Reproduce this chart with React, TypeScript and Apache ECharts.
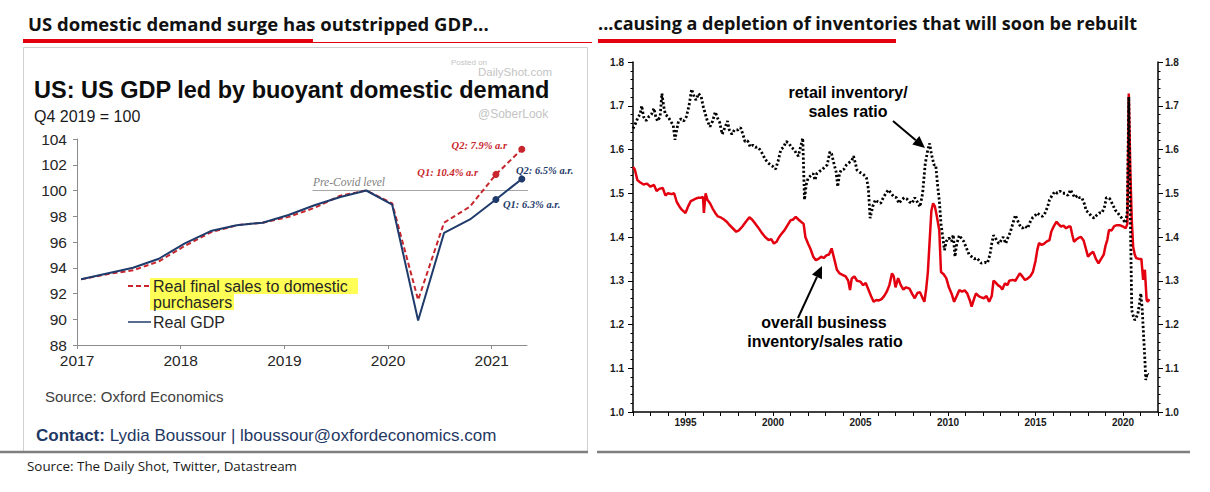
import React, { useEffect, useRef } from "react";
import * as echarts from "echarts";

// ---------- Left panel: US GDP vs domestic demand (Q4 2019 = 100) ----------
const quarters = [
  "2017Q1", "2017Q2", "2017Q3", "2017Q4",
  "2018Q1", "2018Q2", "2018Q3", "2018Q4",
  "2019Q1", "2019Q2", "2019Q3", "2019Q4",
  "2020Q1", "2020Q2", "2020Q3", "2020Q4",
  "2021Q1", "2021Q2",
];
const realGdp = [
  93.1, 93.55, 94.0, 94.7, 95.9, 96.85, 97.3, 97.5, 98.1,
  98.85, 99.5, 100.0, 98.9, 89.9, 96.7, 97.75, 99.3, 100.9,
];
const finalSales = [
  93.1, 93.5, 93.8, 94.5, 95.7, 96.75, 97.3, 97.5, 97.95,
  98.65, 99.6, 100.0, 99.0, 91.5, 97.5, 98.75, 101.25, 103.2,
];
const gdpYearTicks = [2017, 2018, 2019, 2020, 2021];
const preCovidLevel = 100;
const preCovidSpan = [2019.27, 2021.43];

// ---------- Right panel: inventory / sales ratios ----------
const businessRatio: [number, number][] = [
  [1992.0, 1.56], [1992.1, 1.555], [1992.25, 1.53], [1992.4, 1.525], [1992.6, 1.52], [1992.8, 1.522],
  [1993.0, 1.515], [1993.2, 1.519], [1993.35, 1.505], [1993.5, 1.51], [1993.7, 1.512], [1993.85, 1.495],
  [1994.0, 1.5], [1994.2, 1.498], [1994.35, 1.5], [1994.5, 1.48], [1994.65, 1.47], [1994.8, 1.462],
  [1995.0, 1.455], [1995.15, 1.47], [1995.3, 1.482], [1995.45, 1.485], [1995.6, 1.488], [1995.75, 1.49],
  [1995.9, 1.49], [1996.0, 1.492], [1996.05, 1.455], [1996.15, 1.5], [1996.25, 1.485], [1996.4, 1.477],
  [1996.55, 1.465], [1996.7, 1.455], [1996.85, 1.447], [1997.0, 1.445], [1997.2, 1.44], [1997.35, 1.435],
  [1997.5, 1.428], [1997.7, 1.42], [1997.9, 1.412], [1998.05, 1.415], [1998.25, 1.424], [1998.45, 1.435],
  [1998.65, 1.445], [1998.8, 1.44], [1999.0, 1.43], [1999.15, 1.422], [1999.35, 1.41], [1999.55, 1.4],
  [1999.75, 1.393], [1999.9, 1.395], [2000.05, 1.385], [2000.2, 1.389], [2000.35, 1.4], [2000.5, 1.408],
  [2000.65, 1.415], [2000.8, 1.425], [2001.0, 1.438], [2001.15, 1.44], [2001.3, 1.446], [2001.45, 1.44],
  [2001.6, 1.435], [2001.75, 1.43], [2001.85, 1.4], [2002.0, 1.385], [2002.15, 1.372], [2002.3, 1.355],
  [2002.45, 1.347], [2002.6, 1.35], [2002.75, 1.355], [2002.9, 1.352], [2003.05, 1.358], [2003.2, 1.36],
  [2003.35, 1.374], [2003.5, 1.35], [2003.65, 1.325], [2003.8, 1.317], [2004.0, 1.313], [2004.15, 1.31],
  [2004.3, 1.3], [2004.4, 1.279], [2004.5, 1.305], [2004.65, 1.31], [2004.8, 1.3], [2005.0, 1.298],
  [2005.15, 1.29], [2005.3, 1.295], [2005.45, 1.28], [2005.6, 1.265], [2005.75, 1.252], [2005.9, 1.256],
  [2006.05, 1.255], [2006.2, 1.258], [2006.35, 1.265], [2006.5, 1.275], [2006.65, 1.29], [2006.8, 1.317],
  [2006.9, 1.31], [2007.0, 1.285], [2007.15, 1.306], [2007.3, 1.29], [2007.45, 1.28], [2007.6, 1.285],
  [2007.8, 1.282], [2007.95, 1.27], [2008.1, 1.26], [2008.25, 1.272], [2008.4, 1.274], [2008.55, 1.26],
  [2008.65, 1.252], [2008.75, 1.28], [2008.85, 1.32], [2008.95, 1.39], [2009.05, 1.46], [2009.15, 1.477],
  [2009.25, 1.47], [2009.35, 1.45], [2009.5, 1.416], [2009.6, 1.32], [2009.75, 1.315], [2009.9, 1.306],
  [2010.05, 1.285], [2010.2, 1.271], [2010.35, 1.252], [2010.5, 1.265], [2010.65, 1.279], [2010.8, 1.275],
  [2010.95, 1.278], [2011.1, 1.271], [2011.25, 1.255], [2011.35, 1.241], [2011.5, 1.26], [2011.6, 1.271],
  [2011.75, 1.265], [2011.9, 1.262], [2012.05, 1.26], [2012.2, 1.265], [2012.35, 1.252], [2012.5, 1.265],
  [2012.6, 1.3], [2012.7, 1.297], [2012.85, 1.29], [2013.0, 1.286], [2013.1, 1.28], [2013.25, 1.294],
  [2013.4, 1.29], [2013.5, 1.3], [2013.7, 1.302], [2013.85, 1.3], [2014.0, 1.31], [2014.1, 1.317],
  [2014.25, 1.31], [2014.4, 1.302], [2014.55, 1.305], [2014.7, 1.31], [2014.85, 1.32], [2015.0, 1.345],
  [2015.1, 1.37], [2015.2, 1.386], [2015.35, 1.382], [2015.5, 1.385], [2015.65, 1.39], [2015.8, 1.393],
  [2015.9, 1.412], [2016.05, 1.425], [2016.2, 1.435], [2016.3, 1.43], [2016.45, 1.424], [2016.6, 1.426],
  [2016.75, 1.42], [2016.9, 1.424], [2017.0, 1.424], [2017.1, 1.405], [2017.2, 1.389], [2017.35, 1.395],
  [2017.45, 1.398], [2017.6, 1.4], [2017.75, 1.392], [2017.9, 1.37], [2018.0, 1.355], [2018.15, 1.362],
  [2018.3, 1.366], [2018.45, 1.35], [2018.6, 1.34], [2018.75, 1.35], [2018.9, 1.36], [2019.0, 1.38],
  [2019.1, 1.393], [2019.2, 1.416], [2019.35, 1.415], [2019.5, 1.425], [2019.65, 1.427], [2019.8, 1.427],
  [2020.0, 1.424], [2020.15, 1.42], [2020.25, 1.43], [2020.33, 1.728], [2020.42, 1.55], [2020.5, 1.44],
  [2020.58, 1.378], [2020.67, 1.36], [2020.75, 1.352], [2020.9, 1.35], [2021.05, 1.35], [2021.15, 1.302],
  [2021.25, 1.325], [2021.35, 1.256], [2021.42, 1.252], [2021.5, 1.258],
];

const retailRatio: [number, number][] = [
  [1992.0, 1.648], [1992.15, 1.66], [1992.3, 1.675], [1992.4, 1.68], [1992.5, 1.7], [1992.6, 1.675],
  [1992.75, 1.666], [1992.9, 1.675], [1993.05, 1.68], [1993.2, 1.694], [1993.3, 1.675], [1993.4, 1.665],
  [1993.55, 1.675], [1993.65, 1.728], [1993.75, 1.7], [1993.85, 1.68], [1994.0, 1.675], [1994.15, 1.665],
  [1994.3, 1.655], [1994.4, 1.622], [1994.5, 1.645], [1994.6, 1.665], [1994.75, 1.67], [1994.9, 1.665],
  [1995.05, 1.675], [1995.2, 1.7], [1995.35, 1.738], [1995.5, 1.72], [1995.6, 1.713], [1995.75, 1.728],
  [1995.9, 1.72], [1996.0, 1.7], [1996.1, 1.686], [1996.25, 1.665], [1996.4, 1.652], [1996.55, 1.665],
  [1996.7, 1.686], [1996.85, 1.67], [1996.95, 1.662], [1997.1, 1.635], [1997.25, 1.65], [1997.4, 1.665],
  [1997.5, 1.645], [1997.65, 1.635], [1997.8, 1.645], [1998.0, 1.645], [1998.15, 1.65], [1998.3, 1.632],
  [1998.4, 1.618], [1998.55, 1.62], [1998.7, 1.606], [1998.85, 1.61], [1999.0, 1.605], [1999.1, 1.606],
  [1999.25, 1.6], [1999.4, 1.59], [1999.55, 1.578], [1999.7, 1.57], [1999.85, 1.565], [2000.0, 1.561],
  [2000.15, 1.555], [2000.3, 1.575], [2000.45, 1.6], [2000.6, 1.605], [2000.75, 1.618], [2000.9, 1.615],
  [2001.05, 1.605], [2001.2, 1.6], [2001.35, 1.59], [2001.45, 1.585], [2001.6, 1.61], [2001.7, 1.626],
  [2001.8, 1.485], [2001.9, 1.52], [2002.0, 1.534], [2002.15, 1.54], [2002.3, 1.545], [2002.4, 1.53],
  [2002.5, 1.545], [2002.65, 1.55], [2002.8, 1.553], [2002.95, 1.56], [2003.1, 1.565], [2003.25, 1.595],
  [2003.35, 1.59], [2003.5, 1.565], [2003.6, 1.55], [2003.7, 1.515], [2003.8, 1.545], [2003.9, 1.553],
  [2004.05, 1.555], [2004.2, 1.565], [2004.35, 1.57], [2004.5, 1.575], [2004.6, 1.585], [2004.7, 1.57],
  [2004.8, 1.553], [2004.95, 1.548], [2005.1, 1.545], [2005.25, 1.54], [2005.35, 1.534], [2005.45, 1.51],
  [2005.55, 1.443], [2005.7, 1.47], [2005.85, 1.485], [2006.0, 1.48], [2006.15, 1.477], [2006.3, 1.49],
  [2006.45, 1.5], [2006.6, 1.508], [2006.75, 1.5], [2006.9, 1.492], [2007.05, 1.49], [2007.2, 1.477],
  [2007.35, 1.485], [2007.5, 1.49], [2007.65, 1.487], [2007.8, 1.48], [2007.95, 1.477], [2008.1, 1.49],
  [2008.25, 1.48], [2008.4, 1.469], [2008.55, 1.5], [2008.7, 1.568], [2008.85, 1.6], [2008.95, 1.614],
  [2009.05, 1.59], [2009.2, 1.565], [2009.3, 1.565], [2009.4, 1.52], [2009.5, 1.485], [2009.6, 1.43],
  [2009.7, 1.4], [2009.8, 1.37], [2009.9, 1.39], [2010.05, 1.398], [2010.2, 1.39], [2010.3, 1.405],
  [2010.4, 1.355], [2010.5, 1.385], [2010.65, 1.404], [2010.8, 1.395], [2010.9, 1.39], [2011.05, 1.375],
  [2011.2, 1.36], [2011.35, 1.355], [2011.5, 1.35], [2011.65, 1.352], [2011.8, 1.345], [2011.9, 1.34],
  [2012.1, 1.342], [2012.25, 1.34], [2012.4, 1.36], [2012.5, 1.385], [2012.6, 1.404], [2012.75, 1.395],
  [2012.9, 1.385], [2013.0, 1.39], [2013.15, 1.4], [2013.3, 1.385], [2013.4, 1.396], [2013.55, 1.41],
  [2013.7, 1.43], [2013.85, 1.45], [2013.95, 1.44], [2014.1, 1.427], [2014.25, 1.42], [2014.4, 1.425],
  [2014.55, 1.42], [2014.7, 1.435], [2014.85, 1.445], [2015.0, 1.45], [2015.1, 1.455], [2015.25, 1.45],
  [2015.4, 1.447], [2015.55, 1.455], [2015.7, 1.47], [2015.8, 1.485], [2015.95, 1.495], [2016.1, 1.504],
  [2016.25, 1.5], [2016.4, 1.505], [2016.55, 1.5], [2016.7, 1.5], [2016.85, 1.495], [2017.0, 1.508],
  [2017.1, 1.5], [2017.25, 1.49], [2017.4, 1.495], [2017.5, 1.49], [2017.65, 1.49], [2017.8, 1.475],
  [2017.9, 1.46], [2018.05, 1.455], [2018.2, 1.447], [2018.35, 1.443], [2018.5, 1.45], [2018.65, 1.455],
  [2018.8, 1.455], [2018.95, 1.47], [2019.05, 1.49], [2019.15, 1.49], [2019.25, 1.487], [2019.4, 1.475],
  [2019.55, 1.462], [2019.7, 1.455], [2019.85, 1.447], [2020.0, 1.44], [2020.15, 1.432], [2020.25, 1.46],
  [2020.33, 1.72], [2020.42, 1.45], [2020.5, 1.233], [2020.58, 1.22], [2020.67, 1.21], [2020.75, 1.215],
  [2020.85, 1.225], [2020.95, 1.25], [2021.02, 1.271], [2021.1, 1.233], [2021.17, 1.18], [2021.25, 1.12],
  [2021.3, 1.073], [2021.38, 1.088], [2021.45, 1.085],
];
const ratioLabelYears = [1995, 2000, 2005, 2010, 2015, 2020];

// quarter label -> fractional year used on the value axis
const quarterToYear = (q: string) =>
  Number(q.slice(0, 4)) + (Number(q.slice(5)) - 1) * 0.25 + 0.04;

const RED_DS = "#e3000f";
const NAVY = "#1f3b6b";
const DEMAND_RED = "#c8262c";
const ARIAL = "Liberation Sans, Arial, sans-serif";
const SERIF = "Liberation Serif, serif";
const HEAD = "Open Sans, sans-serif";

function arrow(x1: number, y1: number, x2: number, y2: number) {
  const head = 12;
  const half = 5.5;
  const dx = x2 - x1;
  const dy = y2 - y1;
  const len = Math.hypot(dx, dy);
  const ux = dx / len;
  const uy = dy / len;
  const bx = x2 - ux * head;
  const by = y2 - uy * head;
  return [
    { type: "line", shape: { x1, y1, x2: bx, y2: by }, style: { stroke: "#000", lineWidth: 2 } },
    {
      type: "polygon",
      shape: { points: [[x2, y2], [bx - uy * half, by + ux * half], [bx + uy * half, by - ux * half]] },
      style: { fill: "#000" },
    },
  ];
}

function txt(x: number, y: number, text: string, style: Record<string, unknown>) {
  return { type: "text", x, y, style: { text, textVerticalAlign: "middle", ...style } };
}

export default function App() {
  const ref = useRef<HTMLDivElement>(null);

  useEffect(() => {
    if (!ref.current) return;
    const chart = echarts.init(ref.current, undefined, { renderer: "svg" });

    const lastTwo = (_v: unknown, p: { dataIndex: number }) =>
      p.dataIndex >= quarters.length - 2 ? 7 : 0;

    const ratioAxisLabel = {
      fontFamily: ARIAL,
      fontWeight: "bold",
      fontSize: 10,
      color: "#1a1a1a",
    };

    const noteStyle = (fill: string, align = "left") => ({
      fontFamily: SERIF,
      fontStyle: "italic",
      fontWeight: "bold",
      fontSize: 10.5,
      fill,
      textAlign: align,
    });

    const bigLabel = { fontFamily: ARIAL, fontWeight: "bold", fontSize: 16, fill: "#000", textAlign: "center" };

    const option = {
      animation: false,
      backgroundColor: "#ffffff",
      grid: [
        { left: 77, top: 139, width: 450, height: 206 },
        { left: 633, top: 62, width: 525, height: 350 },
      ],
      xAxis: [
        {
          type: "value",
          gridIndex: 0,
          min: 2017,
          max: 2021.34,
          interval: 1,
          axisLine: { lineStyle: { color: "#8c8c8c", width: 1 } },
          axisTick: { customValues: gdpYearTicks, length: 4, lineStyle: { color: "#8c8c8c" } },
          axisLabel: {
            customValues: gdpYearTicks,
            formatter: (v: number) => String(v),
            fontFamily: ARIAL,
            fontSize: 15.5,
            color: "#262626",
            margin: 7,
          },
          splitLine: { show: false },
        },
        {
          type: "value",
          gridIndex: 1,
          min: 1992,
          max: 2022,
          interval: 1,
          axisLine: { lineStyle: { color: "#000", width: 1.5 } },
          axisTick: { length: 4, lineStyle: { color: "#000", width: 1 } },
          axisLabel: {
            ...ratioAxisLabel,
            formatter: (v: number) => (ratioLabelYears.includes(v) ? String(v) : ""),
            margin: 5,
          },
          splitLine: { show: false },
        },
      ],
      yAxis: [
        {
          type: "value",
          gridIndex: 0,
          min: 88,
          max: 104,
          interval: 2,
          axisLine: { show: true, lineStyle: { color: "#8c8c8c", width: 1 } },
          axisTick: { show: true, length: 4, lineStyle: { color: "#8c8c8c" } },
          axisLabel: { fontFamily: ARIAL, fontSize: 15.5, color: "#262626", margin: 10 },
          splitLine: { show: false },
        },
        {
          type: "value",
          gridIndex: 1,
          position: "left",
          min: 1.0,
          max: 1.8,
          interval: 0.1,
          axisLine: { show: true, lineStyle: { color: "#000", width: 1.5 } },
          axisTick: { show: true, length: 5, lineStyle: { color: "#000" } },
          minorTick: { show: true, splitNumber: 5, length: 2.5, lineStyle: { color: "#000" } },
          axisLabel: { ...ratioAxisLabel, margin: 9, formatter: (v: number) => v.toFixed(1) },
          splitLine: { show: false },
        },
        {
          type: "value",
          gridIndex: 1,
          position: "right",
          min: 1.0,
          max: 1.8,
          interval: 0.1,
          axisLine: { show: true, lineStyle: { color: "#000", width: 1.5 } },
          axisTick: { show: true, length: 5, lineStyle: { color: "#000" } },
          minorTick: { show: true, splitNumber: 5, length: 2.5, lineStyle: { color: "#000" } },
          axisLabel: { ...ratioAxisLabel, margin: 7, formatter: (v: number) => v.toFixed(1) },
          splitLine: { show: false },
        },
      ],
      series: [
        {
          name: "Pre-Covid level",
          type: "line",
          xAxisIndex: 0,
          yAxisIndex: 0,
          data: preCovidSpan.map((x) => [x, preCovidLevel]),
          symbol: "none",
          clip: false,
          silent: true,
          lineStyle: { color: "#a6a6a6", width: 1 },
        },
        {
          name: "Real final sales to domestic purchasers",
          type: "line",
          xAxisIndex: 0,
          yAxisIndex: 0,
          data: quarters.map((q, i) => [quarterToYear(q), finalSales[i]]),
          symbol: "circle",
          showSymbol: true,
          symbolSize: lastTwo,
          itemStyle: { color: DEMAND_RED },
          lineStyle: { color: DEMAND_RED, width: 2, type: [5, 3] },
        },
        {
          name: "Real GDP",
          type: "line",
          xAxisIndex: 0,
          yAxisIndex: 0,
          data: quarters.map((q, i) => [quarterToYear(q), realGdp[i]]),
          symbol: "circle",
          showSymbol: true,
          symbolSize: lastTwo,
          itemStyle: { color: NAVY },
          lineStyle: { color: NAVY, width: 2 },
        },
        {
          name: "overall business inventory/sales ratio",
          type: "line",
          xAxisIndex: 1,
          yAxisIndex: 1,
          data: businessRatio,
          symbol: "none",
          lineStyle: { color: RED_DS, width: 2.5 },
        },
        {
          name: "retail inventory/sales ratio",
          type: "line",
          xAxisIndex: 1,
          yAxisIndex: 1,
          data: retailRatio,
          symbol: "none",
          lineStyle: { color: "#000", width: 2.8, type: [2.2, 2.2] },
        },
      ],
      graphic: [
        // headline strips
        txt(28, 23, "US domestic demand surge has outstripped GDP...", {
          fontFamily: HEAD, fontWeight: "bold", fontSize: 18.5, fill: "#111",
        }),
        { type: "rect", shape: { x: 23, y: 39, width: 290, height: 4 }, style: { fill: RED_DS } },
        { type: "line", shape: { x1: 313, y1: 42.5, x2: 592, y2: 42.5 }, style: { stroke: RED_DS, lineWidth: 1 } },
        txt(598, 23, "...causing a depletion of inventories that will soon be rebuilt", {
          fontFamily: HEAD, fontWeight: "bold", fontSize: 18, fill: "#111",
        }),
        { type: "rect", shape: { x: 598, y: 39, width: 298, height: 4 }, style: { fill: RED_DS } },

        // left panel frame and bottom rules
        { type: "rect", shape: { x: 23.5, y: 47.5, width: 564, height: 404 }, style: { fill: "none", stroke: "#d0d0d0", lineWidth: 1 } },
        { type: "line", shape: { x1: 0, y1: 452, x2: 588, y2: 452 }, style: { stroke: "#7f7f7f", lineWidth: 2.5 } },
        { type: "line", shape: { x1: 597, y1: 452, x2: 1190, y2: 452 }, style: { stroke: "#7f7f7f", lineWidth: 2.5 } },

        // left chart headings and watermarks
        txt(34, 90, "US: US GDP led by buoyant domestic demand", {
          fontFamily: ARIAL, fontWeight: "bold", fontSize: 23.5, fill: "#0d0d0d",
        }),
        txt(34, 116, "Q4 2019 = 100", { fontFamily: ARIAL, fontSize: 16, fill: "#1a1a1a" }),
        txt(451, 62, "Posted on", { fontFamily: ARIAL, fontSize: 8, fill: "#c4c4c4" }),
        txt(478, 72, "DailyShot.com", { fontFamily: ARIAL, fontSize: 11.5, fill: "#c4c4c4" }),
        txt(478, 114, "@SoberLook", { fontFamily: ARIAL, fontSize: 12, fill: "#c4c4c4" }),

        // left chart annotations
        txt(313, 182, "Pre-Covid level", {
          fontFamily: SERIF, fontStyle: "italic", fontSize: 11.5, fill: "#808080",
        }),
        txt(507, 145, "Q2: 7.9% a.r", noteStyle(DEMAND_RED, "right")),
        txt(478, 172, "Q1: 10.4% a.r", noteStyle(DEMAND_RED, "right")),
        txt(516, 170, "Q2: 6.5% a.r.", noteStyle(NAVY)),
        txt(503, 204, "Q1: 6.3% a.r.", noteStyle(NAVY)),

        // left chart legend
        { type: "rect", shape: { x: 150, y: 278, width: 208, height: 16 }, style: { fill: "#ffff55" } },
        { type: "rect", shape: { x: 150, y: 294, width: 84, height: 16 }, style: { fill: "#ffff55" } },
        { type: "line", shape: { x1: 128, y1: 286, x2: 151, y2: 286 }, style: { stroke: DEMAND_RED, lineWidth: 2, lineDash: [5, 3] } },
        txt(153, 286, "Real final sales to domestic", { fontFamily: ARIAL, fontSize: 16, lineHeight: 16, fill: "#262626" }),
        txt(153, 302, "purchasers", { fontFamily: ARIAL, fontSize: 16, lineHeight: 16, fill: "#262626" }),
        { type: "line", shape: { x1: 128, y1: 322, x2: 151, y2: 322 }, style: { stroke: NAVY, lineWidth: 1.5 } },
        txt(153, 322, "Real GDP", { fontFamily: ARIAL, fontSize: 16, fill: "#262626" }),

        // left chart footer
        txt(45, 396, "Source: Oxford Economics", { fontFamily: ARIAL, fontSize: 15, fill: "#404040" }),
        {
          type: "text",
          x: 36,
          y: 435,
          style: {
            text: "{b|Contact:} Lydia Boussour | lboussour@oxfordeconomics.com",
            textVerticalAlign: "middle",
            fontFamily: ARIAL,
            fontSize: 17,
            fill: "#1f3864",
            rich: { b: { fontFamily: ARIAL, fontSize: 17, fontWeight: "bold", fill: "#1f3864" } },
          },
        },

        // right chart annotations
        txt(848, 92, "retail inventory/", bigLabel),
        txt(848, 111, "sales ratio", bigLabel),
        ...arrow(893, 121, 925, 148),
        txt(824, 322, "overall business", bigLabel),
        txt(825, 341, "inventory/sales ratio", bigLabel),
        ...arrow(798, 318, 822, 266),

        // page source line
        txt(27, 466, "Source: The Daily Shot, Twitter, Datastream", { fontFamily: HEAD, fontSize: 13.4, fill: "#1a1a1a" }),
      ],
    };

    chart.setOption(option as echarts.EChartsOption);
    return () => chart.dispose();
  }, []);

  return (
    <div
      ref={ref}
      style={{ position: "absolute", left: 0, top: 0, width: 1210, height: 492, background: "#fff" }}
    />
  );
}
